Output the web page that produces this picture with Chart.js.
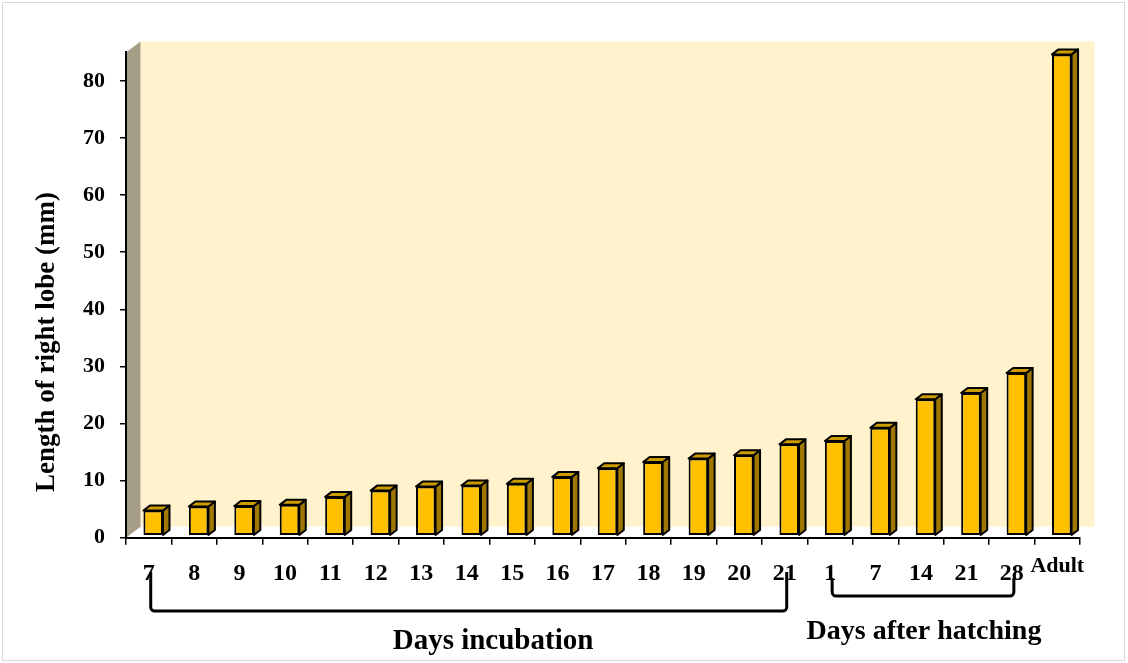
<!DOCTYPE html>
<html>
<head>
<meta charset="utf-8">
<title>Length of right lobe</title>
<script src="https://cdn.jsdelivr.net/npm/chart.js@4.4.1/dist/chart.umd.min.js"></script>
<style>
  html, body { margin: 0; padding: 0; background: #ffffff; }
  #wrap { position: relative; width: 1128px; height: 663px; }
</style>
</head>
<body>
<div id="wrap"><canvas id="chart" width="1128" height="663"></canvas></div>
<script>
// Age categories along the x axis
const categories = ['7', '8', '9', '10', '11', '12', '13', '14', '15', '16', '17',
                    '18', '19', '20', '21', '1', '7', '14', '21', '28', 'Adult'];
// Length of the right lobe (mm) for each age
const lobeLength = [4.4, 5.1, 5.2, 5.4, 6.8, 7.9, 8.6, 8.8, 9.1, 10.3, 11.8,
                    12.9, 13.5, 14.1, 16.0, 16.6, 18.9, 23.9, 25.0, 28.5, 84.3];
// Value axis
const yMax = 85;
const yStep = 10;
// Age groups bracketed under the axis: [label, first index, last index]
const groupNames = ['Days incubation', 'Days after hatching'];
const groupFirst = [0, 15];
const groupLast = [14, 19];

const SERIF = '"Liberation Serif", "Times New Roman", serif';
const DEPTH_X = 14.5, DEPTH_Y = -11;     // wall depth (pseudo 3D)
const BAR_DX = 6.5, BAR_DY = -5;         // bar depth
const BAR_SHIFT_X = 4.5, BAR_SHIFT_Y = -2;

const pseudo3d = {
  id: 'pseudo3d',
  beforeDraw(chart) {
    const { ctx, chartArea: a } = chart;
    ctx.save();
    // outer frame
    ctx.strokeStyle = '#d9d9d9';
    ctx.lineWidth = 1;
    ctx.strokeRect(2.5, 2.5, 1122, 658);
    // back wall
    ctx.fillStyle = '#FFF2CC';
    ctx.fillRect(a.left + DEPTH_X, a.top + DEPTH_Y, a.right - a.left, a.bottom - a.top);
    // side wall
    ctx.fillStyle = '#A69D86';
    ctx.beginPath();
    ctx.moveTo(a.left, a.top);
    ctx.lineTo(a.left + DEPTH_X, a.top + DEPTH_Y);
    ctx.lineTo(a.left + DEPTH_X, a.bottom + DEPTH_Y);
    ctx.lineTo(a.left, a.bottom);
    ctx.closePath();
    ctx.fill();
    ctx.restore();
  },
  beforeDatasetsDraw(chart) {
    const { ctx } = chart;
    ctx.save();
    ctx.translate(BAR_SHIFT_X, BAR_SHIFT_Y);
    const meta = chart.getDatasetMeta(0);
    ctx.lineWidth = 2;
    ctx.lineJoin = 'round';
    ctx.strokeStyle = '#000000';
    meta.data.forEach(bar => {
      const { x, y, base, width } = bar.getProps(['x', 'y', 'base', 'width'], true);
      const l = x - width / 2, r = x + width / 2;
      // side face
      ctx.fillStyle = '#9E7700';
      ctx.beginPath();
      ctx.moveTo(r, y);
      ctx.lineTo(r + BAR_DX, y + BAR_DY);
      ctx.lineTo(r + BAR_DX, base + BAR_DY);
      ctx.lineTo(r, base);
      ctx.closePath();
      ctx.fill();
      ctx.stroke();
      // top face
      ctx.fillStyle = '#CC9C00';
      ctx.beginPath();
      ctx.moveTo(l, y);
      ctx.lineTo(l + BAR_DX, y + BAR_DY);
      ctx.lineTo(r + BAR_DX, y + BAR_DY);
      ctx.lineTo(r, y);
      ctx.closePath();
      ctx.fill();
      ctx.stroke();
    });
  },
  afterDatasetsDraw(chart) {
    chart.ctx.restore();
  },
  afterDraw(chart) {
    const { ctx } = chart;
    const xs = chart.scales.x;
    ctx.save();
    // value axis title
    ctx.fillStyle = '#000000';
    ctx.textAlign = 'center';
    ctx.textBaseline = 'middle';
    ctx.font = 'bold 27px ' + SERIF;
    ctx.save();
    ctx.translate(47, 342);
    ctx.rotate(-Math.PI / 2);
    ctx.fillText('Length of right lobe (mm)', 0, 0);
    ctx.restore();

    // group brackets and their labels
    const brTop = [572, 578], brBottom = [611, 596];
    const labelX = [493, 924], labelY = [642, 632];
    const labelSize = [29, 28];
    ctx.strokeStyle = '#000000';
    ctx.lineWidth = 3;
    ctx.lineJoin = 'round';
    groupNames.forEach((name, g) => {
      const x0 = xs.getPixelForValue(groupFirst[g]) + 2;
      const x1 = xs.getPixelForValue(groupLast[g]) + 2;
      const t = brTop[g], b = brBottom[g], rad = 4;
      ctx.beginPath();
      ctx.moveTo(x0, t);
      ctx.arcTo(x0, b, x0 + rad, b, rad);
      ctx.arcTo(x1, b, x1, b - rad, rad);
      ctx.lineTo(x1, t);
      ctx.stroke();
      ctx.font = 'bold ' + labelSize[g] + 'px ' + SERIF;
      ctx.fillText(name, labelX[g], labelY[g]);
    });
    ctx.restore();
  }
};

const ctx = document.getElementById('chart').getContext('2d');
new Chart(ctx, {
  type: 'bar',
  data: {
    labels: categories,
    datasets: [{
      data: lobeLength,
      backgroundColor: '#FFC000',
      borderColor: '#000000',
      borderWidth: 2,
      borderSkipped: false,
      categoryPercentage: 1,
      barPercentage: 0.43,
      clip: false
    }]
  },
  options: {
    responsive: false,
    animation: false,
    events: [],
    layout: { padding: { left: 0, right: 48, top: 52.4, bottom: 0 } },
    plugins: { legend: { display: false }, tooltip: { enabled: false }, title: { display: false } },
    scales: {
      x: {
        offset: true,
        grid: {
          offset: true,
          drawOnChartArea: false,
          drawTicks: true,
          tickLength: 7,
          color: '#000000',
          lineWidth: 1.5
        },
        border: { display: true, color: '#000000', width: 2 },
        ticks: {
          color: '#000000',
          padding: 15,
          autoSkip: false,
          maxRotation: 0,
          font: (c) => (categories[c.index] === 'Adult'
            ? { family: SERIF, weight: 'bold', size: 22, lineHeight: 0.6 }
            : { family: SERIF, weight: 'bold', size: 24, lineHeight: 1.2 })
        },
        afterFit(scale) { scale.height = 663 - 537.7; }
      },
      y: {
        min: 0,
        max: yMax,
        grid: {
          drawOnChartArea: false,
          drawTicks: true,
          tickLength: 6,
          color: '#000000',
          lineWidth: 1.5
        },
        border: { display: true, color: '#000000', width: 2 },
        ticks: {
          stepSize: yStep,
          color: '#000000',
          padding: 15,
          font: { family: SERIF, weight: 'bold', size: 22 },
          callback: (v) => (v % yStep === 0 ? String(v) : null)
        },
        afterFit(scale) { scale.width = 126; }
      }
    }
  },
  plugins: [pseudo3d]
});
</script>
</body>
</html>
